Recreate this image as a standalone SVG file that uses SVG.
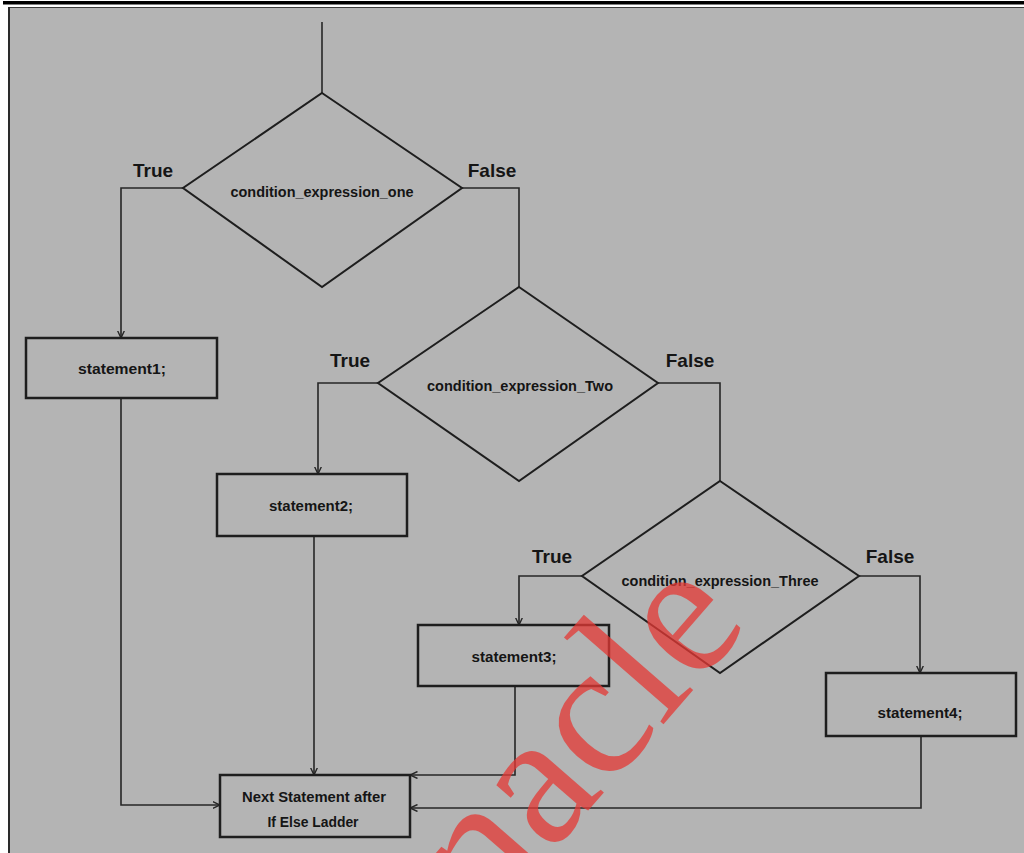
<svg xmlns="http://www.w3.org/2000/svg" width="1024" height="853" viewBox="0 0 1024 853">
  <defs>
    <style>
      .bg { fill: #b4b4b4; }
      .shape { fill: none; stroke: #1e1e1e; stroke-width: 2; }
      .box { fill: none; stroke: #1e1e1e; stroke-width: 2.5; }
      .conn { fill: none; stroke: #262626; stroke-width: 1.6; }
      .lbl { font-family: "Liberation Sans", Arial, sans-serif; font-weight: bold; fill: #151515; }
      .cond { font-size: 14px; text-anchor: middle; }
      .stmt { font-size: 14px; text-anchor: middle; }
      .tf { font-size: 19px; text-anchor: middle; }
      .wm { font-family: "Liberation Serif", "Times New Roman", serif; font-size: 190px; fill: #e53935; opacity: 0.75; }
    </style>
    <marker id="arr" viewBox="0 0 8 8" refX="7.5" refY="4" markerWidth="8" markerHeight="8" markerUnits="userSpaceOnUse" orient="auto">
      <path d="M0,0.5 L7.5,4 L0,7.5" fill="none" stroke="#262626" stroke-width="1.4"/>
    </marker>
  </defs>

  <!-- page frame -->
  <rect x="0" y="0" width="1024" height="853" fill="#ffffff"/>
  <rect x="3" y="1" width="1021" height="3.5" fill="#000000"/>
  <rect class="bg" x="8" y="7" width="1016" height="846"/>
  <line x1="8" y1="7.5" x2="1024" y2="7.5" stroke="#3a3a3a" stroke-width="1"/>
  <line x1="9" y1="7" x2="9" y2="853" stroke="#2a2a2a" stroke-width="2"/>

  <!-- connectors -->
  <g id="connectors">
    <polyline class="conn" points="322,22 322,93"/>
    <polyline class="conn" points="183,188 121,188 121,338" marker-end="url(#arr)"/>
    <polyline class="conn" points="462,188 519,188 519,287"/>
    <polyline class="conn" points="378,383 318,383 318,474" marker-end="url(#arr)"/>
    <polyline class="conn" points="658,383 720,383 720,481"/>
    <polyline class="conn" points="582,576 519,576 519,625" marker-end="url(#arr)"/>
    <polyline class="conn" points="859,576 920,576 920,673" marker-end="url(#arr)"/>
    <polyline class="conn" points="121,398 121,805 220,805" marker-end="url(#arr)"/>
    <polyline class="conn" points="314,536 314,775" marker-end="url(#arr)"/>
    <polyline class="conn" points="515,686 515,775 410,775" marker-end="url(#arr)"/>
    <polyline class="conn" points="921,736 921,808 410,808" marker-end="url(#arr)"/>
  </g>

  <!-- decision 1 -->
  <g id="cond1">
    <polygon class="shape" points="322,93 462,188 322,287 183,188"/>
    <text class="lbl cond" x="322" y="197" textLength="183" lengthAdjust="spacingAndGlyphs">condition_expression_one</text>
    <text class="lbl tf" x="153" y="177">True</text>
    <text class="lbl tf" x="492" y="177">False</text>
  </g>

  <!-- decision 2 -->
  <g id="cond2">
    <polygon class="shape" points="519,287 658,383 519,481 378,383"/>
    <text class="lbl cond" x="520" y="391" textLength="186" lengthAdjust="spacingAndGlyphs">condition_expression_Two</text>
    <text class="lbl tf" x="350" y="367">True</text>
    <text class="lbl tf" x="690" y="367">False</text>
  </g>

  <!-- decision 3 -->
  <g id="cond3">
    <polygon class="shape" points="720,481 859,576 720,673 582,576"/>
    <text class="lbl cond" x="720" y="586" textLength="197" lengthAdjust="spacingAndGlyphs">condition_expression_Three</text>
    <text class="lbl tf" x="552" y="563">True</text>
    <text class="lbl tf" x="890" y="563">False</text>
  </g>

  <!-- statements -->
  <g id="statement1">
    <rect class="box" x="26" y="338" width="191" height="60"/>
    <text class="lbl stmt" x="122" y="374" textLength="88" lengthAdjust="spacingAndGlyphs">statement1;</text>
  </g>
  <g id="statement2">
    <rect class="box" x="217" y="474" width="190" height="62"/>
    <text class="lbl stmt" x="311" y="511" textLength="84" lengthAdjust="spacingAndGlyphs">statement2;</text>
  </g>
  <g id="statement3">
    <rect class="box" x="418" y="625" width="191" height="61"/>
    <text class="lbl stmt" x="514" y="662" textLength="85" lengthAdjust="spacingAndGlyphs">statement3;</text>
  </g>
  <g id="statement4">
    <rect class="box" x="826" y="673" width="190" height="63"/>
    <text class="lbl stmt" x="920" y="718" textLength="85" lengthAdjust="spacingAndGlyphs">statement4;</text>
  </g>
  <g id="next">
    <rect class="box" x="220" y="775" width="190" height="62"/>
    <text class="lbl stmt" x="314" y="802" textLength="144" lengthAdjust="spacingAndGlyphs">Next Statement after</text>
    <text class="lbl stmt" x="313" y="827" textLength="91" lengthAdjust="spacingAndGlyphs">If Else Ladder</text>
  </g>

  <!-- watermark -->
  <text class="wm" transform="translate(488,926) rotate(-49)">nacle</text>
</svg>
